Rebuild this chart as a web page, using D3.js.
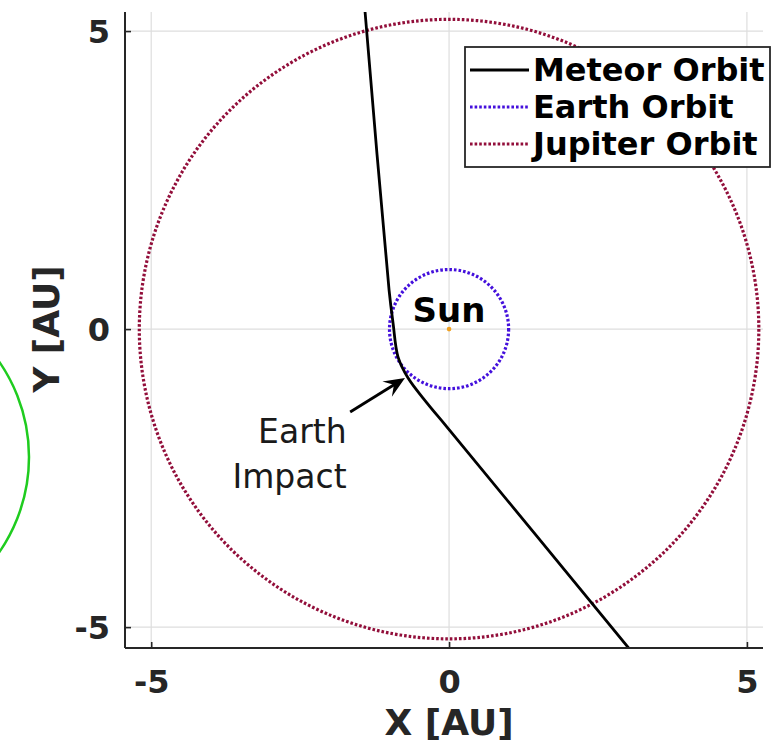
<!DOCTYPE html>
<html>
<head>
<meta charset="utf-8">
<script src="https://cdn.jsdelivr.net/npm/d3@7"></script>
<style>
  html, body { margin: 0; padding: 0; background: #ffffff; }
  svg { display: block; }
</style>
</head>
<body>
<div id="chart"></div>
<script>
// ---------------- DATA ----------------
const xTicks = [-5, 0, 5];
const yTicks = [-5, 0, 5];
const xDomain = [-5.44, 5.27];
const yDomain = [-5.35, 5.32];

// Meteor trajectory [x AU, y AU]
const meteorX = [-1.421, -1.41, -1.007, -0.94, -0.856, -0.688, -0.369, -0.034, 3.003, 3.096];
const meteorY = [5.45, 5.32, 0.654, 0.10, -0.47, -0.822, -1.242, -1.644, -5.336, -5.45];

const earthRadius = 1.0;    // AU
const jupiterRadius = 5.2;  // AU
const sunPos = [0, 0];

const legendLabels = ["Meteor Orbit", "Earth Orbit", "Jupiter Orbit"];
const impactArrowFrom = [-1.66, -1.39];
const impactArrowTo = [-0.74, -0.82];
const impactLabel = ["Earth", "Impact"];
const impactLabelPos = [-1.72, -1.91];
const sunLabelPos = [0, 0.12];

// ---------------- STYLE ----------------
const W = 778, H = 750;
const plot = { left: 125, right: 763, top: 12, bottom: 648 };
const axisColor = "#262626";
const gridColor = "#dedede";
const earthColor = "#4410dc";
const jupiterColor = "#920e3a";
const meteorColor = "#000000";
const sunColor = "#f0a020";

const svg = d3.select("#chart").append("svg")
  .attr("width", W).attr("height", H)
  .style("font-family", "'DejaVu Sans', sans-serif");

// decorative green arc at the far left of the reference
svg.append("circle")
  .attr("cx", -138).attr("cy", 457).attr("r", 167)
  .attr("fill", "none").attr("stroke", "#1fcc1f").attr("stroke-width", 2.5);

const x = d3.scaleLinear().domain(xDomain).range([plot.left, plot.right]);
const y = d3.scaleLinear().domain(yDomain).range([plot.bottom, plot.top]);

svg.append("defs").append("clipPath").attr("id", "clip")
  .append("rect")
  .attr("x", plot.left).attr("y", plot.top)
  .attr("width", plot.right - plot.left).attr("height", plot.bottom - plot.top);

// grid
const grid = svg.append("g");
grid.selectAll("line.vx").data(xTicks).join("line")
  .attr("x1", d => x(d)).attr("x2", d => x(d))
  .attr("y1", plot.top).attr("y2", plot.bottom)
  .attr("stroke", gridColor).attr("stroke-width", 1.2);
grid.selectAll("line.hy").data(yTicks).join("line")
  .attr("y1", d => y(d)).attr("y2", d => y(d))
  .attr("x1", plot.left).attr("x2", plot.right)
  .attr("stroke", gridColor).attr("stroke-width", 1.2);

const g = svg.append("g").attr("clip-path", "url(#clip)");

// orbits
const dotted = "2.6 2.0";
g.append("circle")
  .attr("cx", x(0)).attr("cy", y(0))
  .attr("r", x(jupiterRadius) - x(0))
  .attr("fill", "none").attr("stroke", jupiterColor)
  .attr("stroke-width", 3.2).attr("stroke-dasharray", dotted);
g.append("circle")
  .attr("cx", x(0)).attr("cy", y(0))
  .attr("r", x(earthRadius) - x(0))
  .attr("fill", "none").attr("stroke", earthColor)
  .attr("stroke-width", 3.2).attr("stroke-dasharray", dotted);

// meteor
const meteor = meteorX.map((d, i) => [d, meteorY[i]]);
g.append("path")
  .datum(meteor)
  .attr("d", d3.line().x(d => x(d[0])).y(d => y(d[1])).curve(d3.curveCatmullRom.alpha(0.5)))
  .attr("fill", "none").attr("stroke", meteorColor).attr("stroke-width", 2.8);

// sun
g.append("circle")
  .attr("cx", x(sunPos[0])).attr("cy", y(sunPos[1]))
  .attr("r", 2.3).attr("fill", sunColor);

// axes
const xAxis = d3.axisBottom(x).tickValues(xTicks).tickSize(-6).tickPadding(14).tickFormat(d3.format("d"));
const yAxis = d3.axisLeft(y).tickValues(yTicks).tickSize(-6).tickPadding(14).tickFormat(d3.format("d"));

const gx = svg.append("g").attr("transform", `translate(0,${plot.bottom})`).call(xAxis);
const gy = svg.append("g").attr("transform", `translate(${plot.left},0)`).call(yAxis);
[gx, gy].forEach(a => {
  a.select(".domain").attr("stroke", axisColor).attr("stroke-width", 2);
  a.selectAll(".tick line").attr("stroke", axisColor).attr("stroke-width", 1.6);
  a.selectAll(".tick text")
    .attr("fill", axisColor)
    .style("font-family", "'DejaVu Sans', sans-serif")
    .style("font-size", "32px").style("font-weight", "bold");
});
gx.select(".domain").attr("d", `M${plot.left},0H${plot.right}`);
gy.select(".domain").attr("d", `M0,${plot.top}V${plot.bottom}`);
gx.selectAll(".tick text").attr("dy", "0.71em").attr("y", 22);
gy.selectAll(".tick text").attr("x", -15).attr("dy", "0.36em");
gx.selectAll(".tick text").text(d => String(d));
gy.selectAll(".tick text").text(d => String(d));

// axis labels
svg.append("text")
  .attr("x", x(0)).attr("y", 735)
  .attr("text-anchor", "middle")
  .attr("fill", axisColor)
  .style("font-size", "36px").style("font-weight", "bold")
  .text("X [AU]");
svg.append("text")
  .attr("transform", `translate(59,${y(0)}) rotate(-90)`)
  .attr("text-anchor", "middle")
  .attr("fill", axisColor)
  .style("font-size", "36px").style("font-weight", "bold")
  .text("Y [AU]");

// Sun label
svg.append("text")
  .attr("x", x(sunLabelPos[0])).attr("y", y(sunLabelPos[1]))
  .attr("text-anchor", "middle")
  .attr("fill", "#000")
  .style("font-size", "34px").style("font-weight", "bold")
  .text("Sun");

// impact annotation
const ax0 = x(impactArrowFrom[0]), ay0 = y(impactArrowFrom[1]);
const ax1 = x(impactArrowTo[0]), ay1 = y(impactArrowTo[1]);
const rad = Math.atan2(ay1 - ay0, ax1 - ax0);
svg.append("line")
  .attr("x1", ax0).attr("y1", ay0)
  .attr("x2", ax1 - 10 * Math.cos(rad)).attr("y2", ay1 - 10 * Math.sin(rad))
  .attr("stroke", "#000").attr("stroke-width", 2.8);
svg.append("path")
  .attr("transform", `translate(${ax1},${ay1}) rotate(${rad * 180 / Math.PI})`)
  .attr("d", "M0,0 L-21,-9 L-13,0 L-21,9 Z")
  .attr("fill", "#000");

const lab = svg.append("text")
  .attr("text-anchor", "end")
  .attr("fill", "#1a1a1a")
  .style("font-size", "33px");
lab.selectAll("tspan").data(impactLabel).join("tspan")
  .attr("x", x(impactLabelPos[0]))
  .attr("y", (d, i) => y(impactLabelPos[1]) + i * 45)
  .text(d => d);

// legend
const leg = svg.append("g");
leg.append("rect")
  .attr("x", 465).attr("y", 47).attr("width", 305).attr("height", 120)
  .attr("fill", "#fff").attr("stroke", axisColor).attr("stroke-width", 1.8);
const legColors = [meteorColor, earthColor, jupiterColor];
const legDash = [null, dotted, dotted];
legendLabels.forEach((t, i) => {
  const by = 81 + i * 37;
  leg.append("line")
    .attr("x1", 470).attr("x2", 529)
    .attr("y1", by - 11).attr("y2", by - 11)
    .attr("stroke", legColors[i]).attr("stroke-width", 3.2)
    .attr("stroke-dasharray", legDash[i]);
  leg.append("text")
    .attr("x", 533).attr("y", by)
    .attr("fill", "#000")
    .style("font-size", "32px").style("font-weight", "bold")
    .text(t);
});
</script>
</body>
</html>
